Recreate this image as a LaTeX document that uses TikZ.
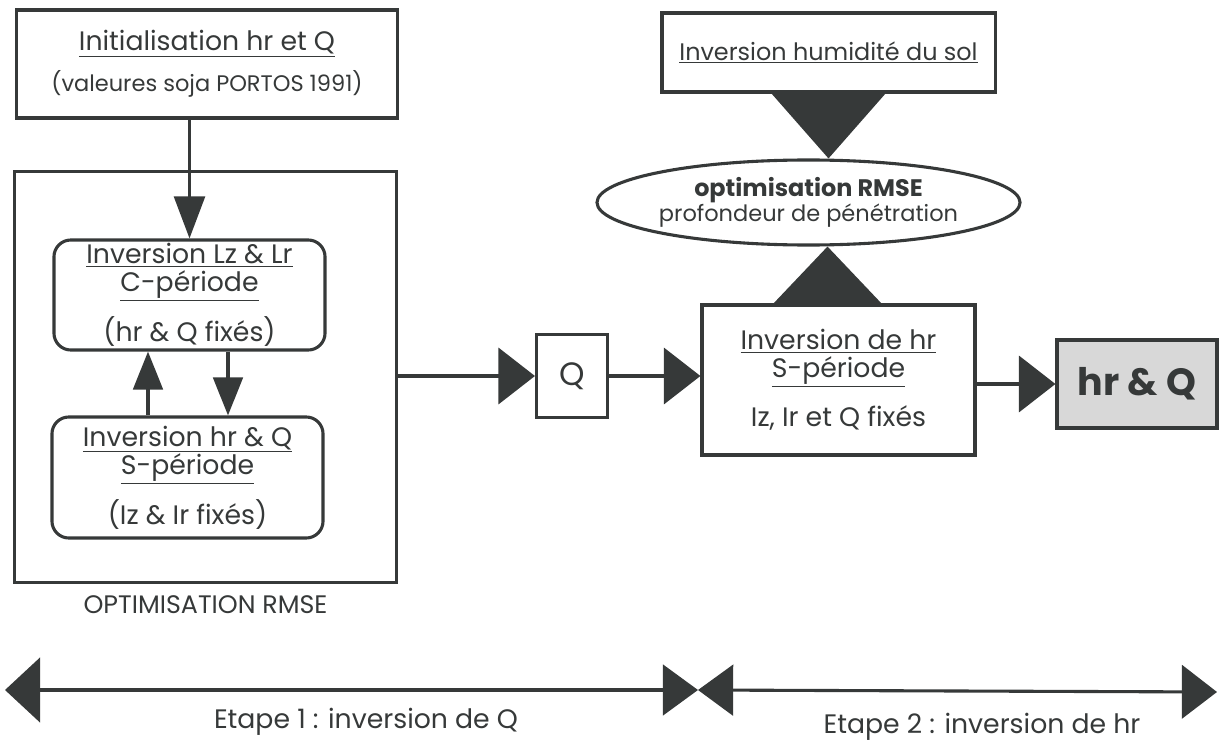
\documentclass[tikz,border=0pt]{standalone}
\usepackage{fontspec}
\setmainfont{Poppins}
\usepackage{tikz}
\usetikzlibrary{shapes.geometric,arrows.meta,positioning,calc}
\definecolor{inkgray}{HTML}{363939}
\definecolor{shadegray}{HTML}{D8D8D8}
\tikzset{
  box/.style={draw=inkgray, line width=2.2pt, align=center, inner sep=0pt,
    text=inkgray, font=\fontsize{19}{20}\selectfont},
  inv/.style={box, rounded corners=12pt},
  opti/.style={ellipse, draw=inkgray, line width=2.2pt, align=center, inner sep=0pt,
    text=inkgray, minimum width=9.675cm, minimum height=2.125cm},
  result/.style={box, fill=shadegray, font=\fontsize{27}{29}\selectfont\bfseries},
  plain/.style={inner sep=0pt, text=inkgray, font=\fontsize{18}{20}\selectfont},
  steplbl/.style={inner sep=0pt, text=inkgray, font=\fontsize{19}{21}\selectfont},
  flow/.style={-{Triangle[length=26pt, width=40pt]}, draw=inkgray, line width=2.2pt},
  vflow/.style={-{Triangle[length=30pt, width=22pt]}, draw=inkgray, line width=2.2pt},
  loopflow/.style={-{Triangle[length=27pt, width=21pt]}, draw=inkgray, line width=2.2pt},
  spanflow/.style={{Triangle[length=25pt, width=46pt]}-{Triangle[length=25pt, width=36pt]},
    draw=inkgray, line width=2.2pt},
  spanflowb/.style={{Triangle[length=25pt, width=36pt]}-{Triangle[length=25pt, width=38pt]},
    draw=inkgray, line width=2.2pt},
  wedge/.style={fill=inkgray},
}
\begin{document}
\begin{tikzpicture}[x=0.025cm, y=-0.025cm]
\useasboundingbox (0,0) rectangle (1219,742);

\node[box, minimum width=9.5cm, minimum height=2.7cm] (init) at (207,64)
  {\underline{Initialisation hr et Q}\\[9pt]{\fontsize{16}{18}\selectfont(valeures soja PORTOS 1991)}};
\node[box, minimum width=9.525cm, minimum height=10.25cm] (outer) at (205.5,377) {};
\node[inv, minimum width=6.775cm, minimum height=2.75cm] (cper) at (189.5,295)
  {\underline{Inversion Lz \& Lr}\\\underline{C-période}\\[10pt](hr \& Q fixés)};
\node[inv, minimum width=6.775cm, minimum height=3.025cm] (sper) at (187.5,477.5)
  {\underline{Inversion hr \& Q}\\\underline{S-période}\\[10pt](Iz \& Ir fixés)};
\node[plain, below=0.3cm of outer] (optlbl) {OPTIMISATION RMSE};

\node[box, minimum width=1.775cm, minimum height=2.075cm, font=\fontsize{23}{24}\selectfont] (q) at (572,376) {Q};
\node[box, minimum width=6.825cm, minimum height=3.75cm] (hr) at (838.5,380)
  {\underline{Inversion de hr}\\\underline{S-période}\\[12pt]Iz, Ir et Q fixés};
\node[result, minimum width=4.0cm, minimum height=2.2cm] (res) at (1137,384) {hr \& Q};

\node[box, minimum width=8.325cm, minimum height=1.975cm, font=\fontsize{17}{18}\selectfont] (soil) at (828.5,52.5)
  {\underline{Inversion humidité du sol}};
\node[opti] (opt) at (808.5,202.5)
  {{\fontsize{17}{15}\selectfont\bfseries optimisation RMSE}\\{\fontsize{16}{15}\selectfont profondeur de pénétration}};

\fill[wedge] ($(soil.south)+(-57,0)$) -- ($(soil.south)+(57,0)$) -- (soil.south |- opt.north) -- cycle;
\coordinate (ltip) at ($(opt.south)+(19,0)$);
\fill[wedge] ($(hr.north)+(-65,0)$) -- ($(hr.north)+(43,0)$) -- (ltip) -- cycle;

\draw[vflow] (cper.north |- init.south) -- (cper.north);
\coordinate (upfoot) at ($(sper.north)+(-39.5,0)$);
\draw[loopflow] (upfoot) -- (upfoot |- cper.south);
\coordinate (dnfoot) at ($(cper.south)+(38.5,0)$);
\draw[loopflow] (dnfoot) -- (dnfoot |- sper.north);
\draw[flow] (outer.east |- q.west) -- (q.west);
\draw[flow] (q.east) -- (q.east -| hr.west);
\draw[flow] (hr.east |- res.west) -- (res.west);

\coordinate (stepa) at (5,690);
\coordinate (stepmid) at (698,690);
\coordinate (stepb) at (1217,692);
\draw[spanflow] (stepa) -- (stepmid);
\draw[spanflowb] (stepmid) -- (stepb);
\node[steplbl] (et1) at (366,722) {Etape 1 : inversion de Q};
\node[steplbl] (et2) at (982,727) {Etape 2 : inversion de hr};
\end{tikzpicture}
\end{document}
